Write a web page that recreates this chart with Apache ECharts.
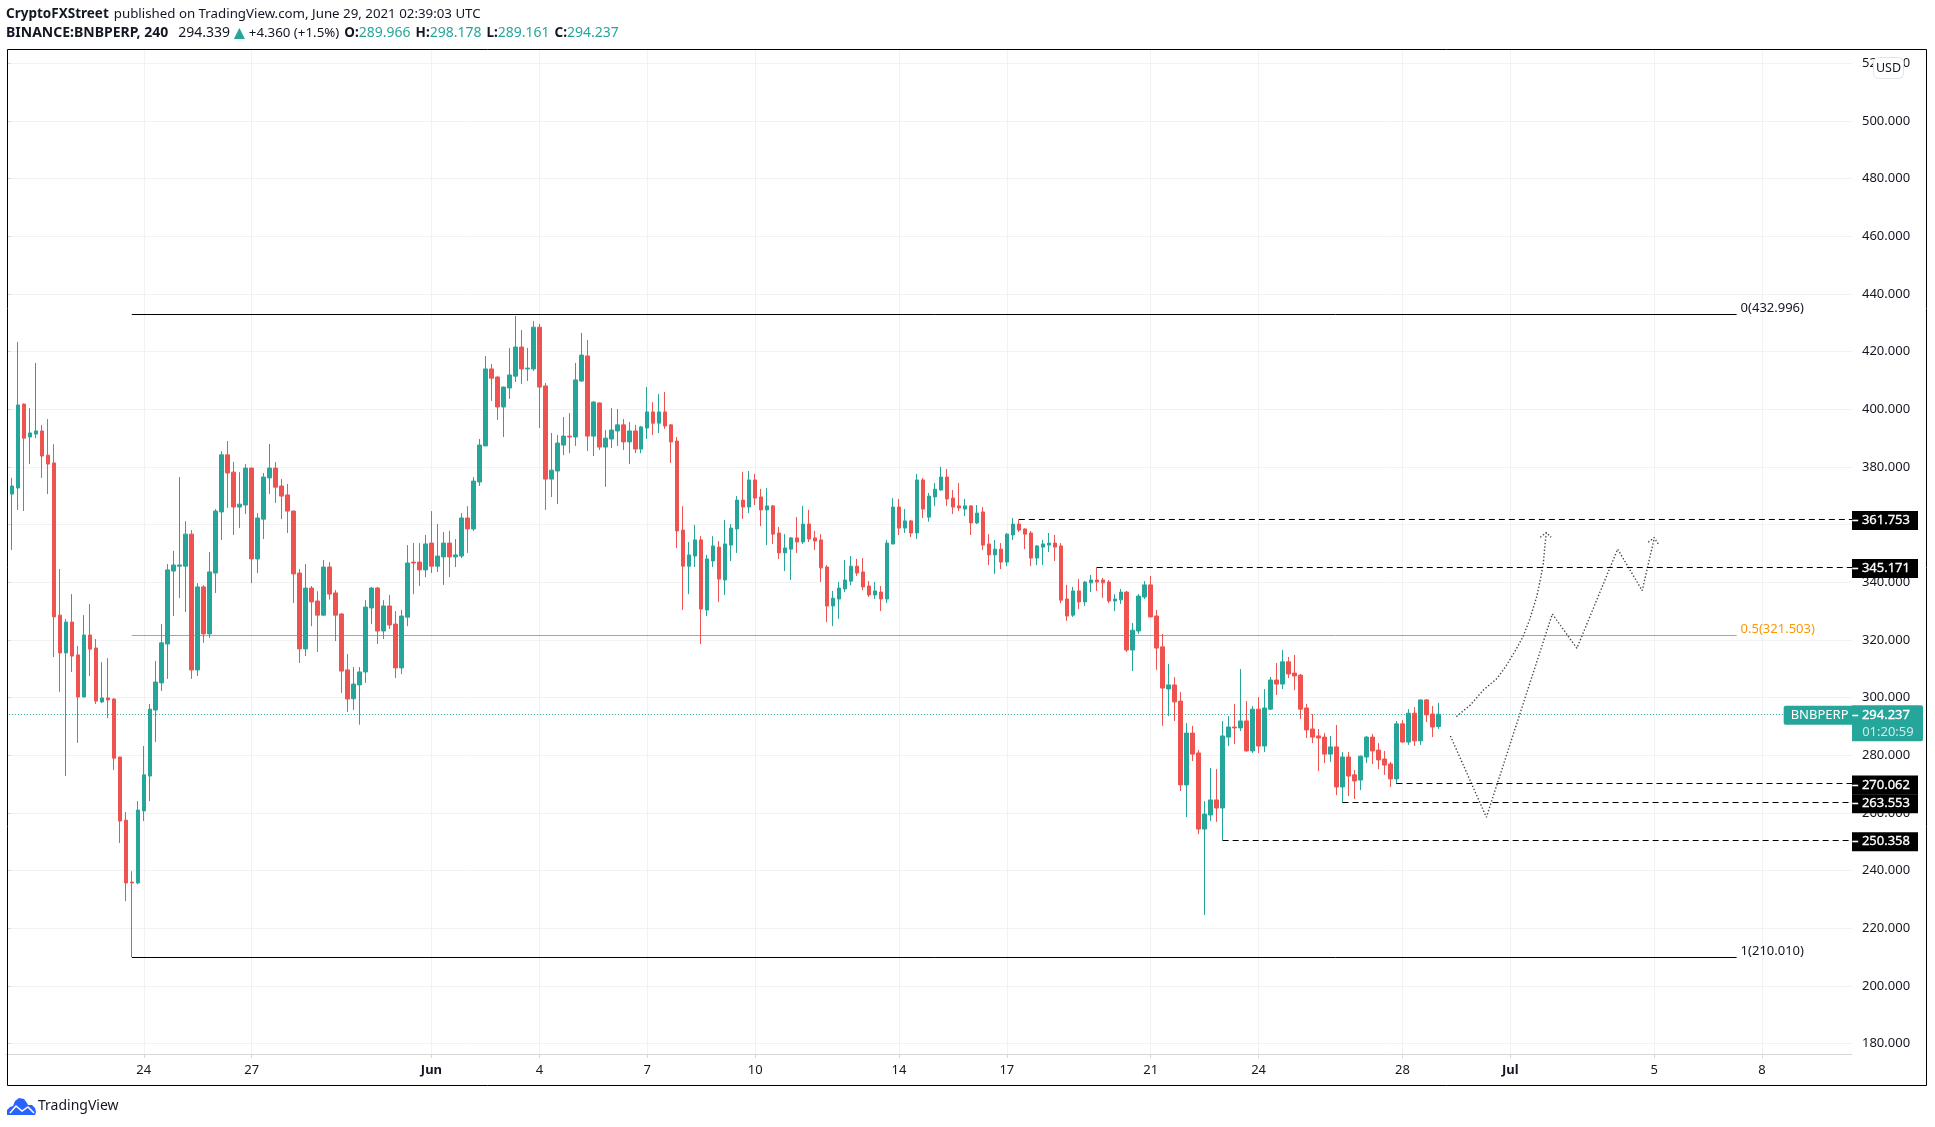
<!DOCTYPE html>
<html>
<head>
<meta charset="utf-8">
<title>BNBPERP</title>
<script src="https://cdn.jsdelivr.net/npm/echarts@6/dist/echarts.min.js"></script>
<style>
  html, body { margin: 0; padding: 0; background: #fff; }
  #main { width: 1935px; height: 1127px; }
</style>
</head>
<body>
<div id="main"></div>
<script>
// 4h bars, one slot per bar, empty slots on the right up to 8 Jul
var opens = [
  341.3,370.6,372.7,401.8,390.4,391.4,392.5,384.1,381.4,328.6,
  315.5,326.2,314.8,300.2,321.7,317.2,298.5,299.9,299.5,279.4,
  257.5,236.0,235.7,260.7,272.8,295.7,305.1,318.6,343.9,345.6,
  345.6,356.7,309.6,338.4,322.1,343.2,364.4,384.2,378.2,366.1,
  366.8,379.6,348.1,361.9,376.2,379.6,373.4,370.3,364.7,343.2,
  316.9,338.0,333.5,328.6,345.3,336.3,329.0,309.6,299.6,304.4,
  308.9,331.1,338.0,323.1,331.8,325.5,310.3,327.9,347.0,347.0,
  344.3,353.6,345.6,348.8,353.6,348.8,349.1,362.3,358.5,374.8,
  387.3,414.0,411.2,400.8,407.4,411.5,421.6,414.0,414.0,428.5,
  408.1,375.8,378.6,387.6,390.7,390.4,409.8,418.5,390.7,402.2,
  386.9,389.7,392.5,394.6,388.7,392.5,386.2,393.5,399.1,395.2,
  399.1,394.6,389.0,358.1,345.6,349.1,354.7,330.4,347.4,352.2,
  340.8,352.9,358.5,368.5,366.1,375.5,369.6,365.1,366.5,357.1,
  350.2,351.5,355.4,354.0,360.2,355.4,354.7,345.3,331.8,334.2,
  337.7,340.4,345.6,343.6,338.7,335.6,336.6,334.2,353.3,366.1,
  358.8,361.3,357.1,375.5,362.6,369.6,372.0,376.5,369.2,366.5,
  365.4,366.5,360.6,364.4,353.3,349.5,351.5,347.0,356.4,360.2,
  358.5,357.1,348.4,352.2,352.9,353.6,352.6,334.2,328.6,337.0,
  333.2,339.8,340.8,340.8,340.1,333.5,333.9,336.6,316.5,323.1,
  334.9,339.1,328.3,317.6,303.0,304.4,298.8,269.7,287.7,280.8,
  254.4,259.3,264.5,261.7,286.3,289.8,289.5,291.9,281.5,296.0,
  283.2,296.0,306.1,304.7,312.4,308.5,307.8,296.4,289.1,286.7,
  286.3,280.4,282.9,269.0,279.4,273.2,271.4,279.4,286.3,281.8,
  278.7,277.0,271.8,290.9,284.6,294.6,285.0,299.2,294.3,289.966
];
var closes = [
  371.1,373.4,401.5,390.0,391.8,392.5,383.8,381.0,328.0,315.5,
  326.2,314.4,300.2,321.7,316.8,298.8,299.9,299.2,279.0,257.2,
  235.7,235.7,261.0,273.2,296.0,305.4,319.0,344.3,346.0,346.0,
  356.7,309.6,338.4,322.1,343.6,364.7,384.2,377.9,366.1,367.1,
  379.6,348.1,362.3,376.5,379.6,373.0,369.9,364.7,342.9,316.9,
  338.0,333.2,328.6,345.3,335.9,328.6,309.2,299.5,304.7,308.9,
  331.4,338.0,323.1,331.8,325.2,310.3,328.3,346.7,346.7,344.3,
  353.3,345.6,349.1,353.6,348.8,349.5,362.3,358.5,375.1,387.6,
  414.0,410.8,400.8,407.7,411.9,421.6,414.0,414.3,428.5,407.7,
  375.8,378.9,388.3,390.7,390.4,410.2,418.8,390.7,402.5,386.9,
  390.0,392.8,394.6,388.7,392.5,386.2,393.9,399.1,395.2,399.1,
  394.2,388.7,357.8,345.6,349.5,354.7,330.7,348.1,352.6,341.1,
  353.3,358.8,368.5,366.1,375.5,369.2,365.1,366.5,356.7,350.2,
  351.9,355.4,354.0,360.2,355.0,354.3,345.0,331.8,334.5,338.0,
  340.8,345.6,343.2,338.4,335.6,337.0,334.2,353.6,366.1,358.8,
  361.3,357.1,375.5,365.4,369.9,372.3,376.5,368.9,366.1,365.8,
  366.5,360.6,364.0,352.9,349.5,351.5,347.0,356.7,360.2,358.1,
  356.7,348.4,352.6,353.3,353.6,352.2,333.8,328.3,337.0,333.2,
  340.1,340.8,340.1,339.8,333.5,334.2,336.6,316.5,323.4,335.2,
  339.1,328.0,317.2,303.3,304.4,298.5,269.7,287.7,280.4,254.4,
  259.6,264.5,261.7,286.7,289.8,289.5,291.9,281.5,296.0,283.2,
  296.4,306.1,304.7,312.4,308.2,307.5,296.0,288.8,286.3,286.0,
  280.4,282.9,269.0,279.4,272.8,271.1,279.7,286.3,281.5,278.4,
  276.6,271.8,290.9,284.6,294.6,285.0,299.2,294.0,289.8,294.237
];
var lows = [
  341.0,351.2,365.1,364.7,381.0,390.0,376.2,370.6,314.1,302.0,
  272.8,308.9,284.3,300.2,307.5,297.8,298.1,292.9,274.9,249.6,
  229.4,210.01,235.3,257.2,264.1,284.6,302.3,306.5,328.3,334.5,
  329.7,306.5,307.5,319.0,320.7,336.3,354.7,365.8,356.4,358.8,
  363.7,339.7,343.2,355.0,370.6,367.5,361.9,357.1,332.8,312.0,
  314.4,324.8,315.8,328.5,334.0,319.6,301.6,295.0,295.7,290.6,
  305.1,325.5,318.6,320.3,323.8,306.8,308.2,324.8,335.9,338.7,
  341.8,343.2,343.6,339.1,341.8,345.3,348.4,350.2,357.8,373.4,
  387.3,402.9,396.3,390.4,403.6,409.5,408.8,409.8,413.3,393.5,
  365.1,369.6,367.1,384.1,384.8,387.3,409.6,385.5,383.8,385.9,
  373.1,386.6,387.3,385.9,381.0,384.8,384.8,389.7,391.1,391.8,
  393.2,381.4,351.9,330.4,335.9,345.3,318.6,328.3,345.3,333.2,
  335.6,347.4,350.2,362.0,364.0,366.8,359.5,352.9,353.3,348.1,
  343.9,340.8,350.2,353.3,354.0,351.2,340.1,326.2,324.8,327.3,
  336.6,339.0,342.2,337.3,334.9,334.2,330.0,332.8,353.1,356.4,
  357.1,355.7,355.0,362.3,361.0,366.5,371.8,366.5,363.7,364.7,
  363.0,356.4,360.2,351.2,346.0,342.9,344.6,345.6,354.7,357.4,
  351.5,345.6,346.0,346.0,350.5,347.4,332.8,326.6,328.0,330.7,
  331.8,336.6,337.0,334.6,332.8,330.0,332.5,315.8,309.2,322.1,
  334.2,327.8,309.6,290.2,293.6,291.9,267.6,258.6,278.0,252.7,
  224.6,257.2,256.9,250.358,283.2,283.9,288.4,281.3,280.8,280.8,
  281.1,295.7,300.9,303.0,306.8,302.6,292.6,286.0,284.2,274.5,
  277.3,277.7,266.2,263.553,265.9,264.8,267.9,277.3,277.0,275.2,
  273.2,269.0,270.062,284.3,283.6,283.2,283.6,291.5,286.3,289.161
];
var highs = [
  375.0,376.2,423.3,402.0,400.4,416.1,394.6,396.6,387.9,344.6,
  327.3,335.9,317.9,328.6,332.5,320.3,312.3,313.7,299.8,279.4,
  260.3,239.8,264.1,283.2,297.8,312.7,325.5,346.3,350.9,376.5,
  361.2,358.1,339.7,339.0,350.5,365.4,385.5,389.0,381.7,378.2,
  381.0,379.8,364.0,377.9,388.0,381.7,375.8,374.1,364.9,344.6,
  346.3,338.7,336.9,347.7,347.0,337.3,329.3,315.1,310.6,310.6,
  333.8,338.4,338.4,333.8,335.6,330.0,330.4,352.9,353.6,353.6,
  356.4,364.7,360.2,357.4,357.8,355.0,364.0,366.4,376.5,389.7,
  418.5,415.7,411.4,407.9,421.3,432.4,427.5,421.3,430.6,429.6,
  409.1,391.8,391.1,397.3,398.7,416.1,426.5,424.0,402.9,402.4,
  392.8,400.4,400.1,396.6,395.6,394.6,394.2,407.7,402.5,405.3,
  406.0,394.8,390.4,366.4,354.0,359.9,356.0,349.5,356.0,354.3,
  361.6,360.2,369.9,378.3,378.6,377.6,372.4,372.7,366.8,359.2,
  356.7,355.7,362.6,366.5,365.1,357.8,356.7,346.0,337.0,340.1,
  347.7,349.1,348.1,348.4,340.4,340.1,338.7,354.7,369.2,368.9,
  365.4,361.6,377.6,376.2,371.0,374.4,380.0,379.3,372.0,374.4,
  368.9,366.7,366.8,366.1,356.7,354.7,353.6,357.1,362.3,361.753,
  358.7,357.8,352.9,354.7,357.1,356.4,353.6,339.1,338.4,341.1,
  340.4,342.5,345.171,341.5,340.8,335.9,337.7,337.0,325.9,335.9,
  340.4,342.2,330.4,322.1,311.7,307.1,301.9,291.2,290.2,281.8,
  264.1,275.6,275.2,291.9,293.6,297.8,309.9,298.8,297.1,300.2,
  303.0,307.1,312.0,316.5,314.1,314.8,308.2,297.8,294.3,289.1,
  287.7,286.7,290.5,281.1,281.1,274.9,279.9,286.7,287.4,284.2,
  281.5,277.7,291.9,292.2,296.0,296.7,299.3,299.5,297.1,298.178
];

var slotCount = 309;
var tickSlots = [23, 41, 71, 89, 107, 125, 149, 167, 191, 209, 233, 251, 275, 293];
var tickLabels = ['24', '27', 'Jun', '4', '7', '10', '14', '17', '21', '24', '28', 'Jul', '5', '8'];
var priceTicks = [180, 200, 220, 240, 260, 280, 300, 320, 340, 360, 380, 400, 420, 440, 460, 480, 500, 520];

// fib retracement
var fibLevels = [432.996, 321.503, 210.010];
var fibNames = ['0(432.996)', '0.5(321.503)', '1(210.010)'];
var fibColors = ['#000000', '#ff9800', '#000000'];
var fibLabelColors = ['#131722', '#ff9800', '#131722'];
var fibSpan = [21, 288.75];

// dashed horizontal levels, each starts at the bar it was taken from
var levelValues = [361.753, 345.171, 270.062, 263.553, 250.358];
var levelStarts = [169, 182, 232, 223, 203];

var lastPrice = 294.237;
var lastEnd = 296.6;

// hand drawn projections, x in bar slots
var curveX = [242.0, 244.3, 246.5, 248.8, 250.2, 251.9, 253.1, 254.2, 255.4, 256.1, 256.5, 256.8, 257.0];
var curveY = [293.4, 297.4, 302.6, 306.7, 310.7, 316.5, 321.1, 326.9, 335.0, 342.0, 346.6, 353.5, 357.0];
var curveHeadX = [256.0, 257.0, 257.8];
var curveHeadY = [355.6, 357.3, 355.6];
var zigX = [241.0, 247.0, 258.0, 262.1, 268.9, 273.0, 275.0];
var zigY = [286.7, 258.5, 329.0, 317.1, 351.5, 337.1, 355.3];
var zigHeadX = [274.0, 275.0, 275.8];
var zigHeadY = [353.9, 355.5, 352.9];

var UP = '#26a69a', DOWN = '#ef5350', GRID = '#f1f2f4', AXIS = '#d6d7da', TEXT = '#131722';
var FONT = '"Noto Sans", sans-serif';

var categories = [];
for (var i = 0; i < slotCount; i++) {
  var k = tickSlots.indexOf(i);
  categories.push(k >= 0 ? tickLabels[k] : '');
}
var candles = opens.map(function (o, i) {
  return [o, closes[i], lows[i], highs[i]];
});
function isTick(index) {
  return tickSlots.indexOf(index) >= 0;
}
function zip(xs, ys) {
  return xs.map(function (x, i) { return [x, ys[i]]; });
}
function dotted(xs, ys) {
  return {
    type: 'line', xAxisIndex: 1, data: zip(xs, ys), showSymbol: false, silent: true, z: 5,
    lineStyle: { color: '#4a4a4a', width: 1.4, type: [1.4, 2] }
  };
}
// horizontal line snapped to a whole pixel, so it stays 1px sharp like the original
function hline(x0, x1, y, color, dash, z) {
  return {
    type: 'custom', xAxisIndex: 1, data: [[x0, x1, y]], encode: { x: [0, 1], y: 2 }, silent: true, z: z, clip: false,
    renderItem: function (params, api) {
      var a = api.coord([api.value(0), api.value(2)]);
      var b = api.coord([api.value(1), api.value(2)]);
      var yy = Math.round(a[1] - 0.5) + 0.5;
      return {
        type: 'line',
        shape: { x1: a[0], y1: yy, x2: b[0], y2: yy },
        style: { stroke: color, lineWidth: 1, lineDash: dash, fill: null }
      };
    }
  };
}
// invisible line that only carries the end label
function labelLine(x0, x1, y, z, endLabel) {
  return {
    type: 'line', xAxisIndex: 1, data: [[x0, y], [x1, y]], showSymbol: false, silent: true, z: z,
    lineStyle: { opacity: 0 }, endLabel: endLabel
  };
}

var series = [{
  type: 'candlestick',
  data: candles,
  barWidth: 4,
  z: 3,
  itemStyle: { color: UP, color0: DOWN, borderColor: UP, borderColor0: DOWN, borderWidth: 1 }
}];

fibLevels.forEach(function (lvl, i) {
  series.push(hline(fibSpan[0], fibSpan[1], lvl, fibColors[i], null, 2));
  series.push(labelLine(fibSpan[0], fibSpan[1], lvl, 2, {
    show: true, formatter: fibNames[i], color: fibLabelColors[i], fontFamily: FONT, fontSize: 13, distance: 4, offset: [0, -6]
  }));
});

levelValues.forEach(function (lvl, i) {
  series.push(hline(levelStarts[i], 308, lvl, '#000', [6, 4], 6));
  series.push(labelLine(levelStarts[i], 308, lvl, 6 + i, {
    show: true, formatter: '– ' + lvl.toFixed(3), color: '#fff', backgroundColor: '#000', fontFamily: FONT, fontSize: 13,
    textBorderColor: '#fff', textBorderWidth: 0.3,
    lineHeight: 13, padding: [3, 0, 3, 0], width: 66, align: 'left', distance: 0, offset: [0, 1]
  }));
});

// last price dotted line with the two tags at the scale
series.push(hline(0, lastEnd, lastPrice, UP, [1, 2], 2));
series.push(labelLine(0, lastEnd, lastPrice, 2, {
  show: true, formatter: 'BNBPERP', color: '#fff', backgroundColor: UP, fontFamily: FONT, fontSize: 13, lineHeight: 13,
  padding: [3, 0, 3, 7], width: 62, align: 'left', distance: 0, borderRadius: [2, 0, 0, 2], offset: [0, 1]
}));
series.push(labelLine(lastEnd, 308, lastPrice, 12, {
  show: true, formatter: '{p|– 294.237}\n{t|   01:20:59}', backgroundColor: UP, distance: 0, offset: [0, 9], width: 71, align: 'left',
  padding: [2, 0, 1, 0], borderRadius: [0, 2, 2, 0],
  rich: {
    p: { color: '#fff', fontFamily: FONT, fontSize: 13, lineHeight: 17, textBorderColor: '#fff', textBorderWidth: 0.3 },
    t: { color: '#cdebe7', fontFamily: FONT, fontSize: 13, lineHeight: 16 }
  }
}));

series.push(dotted(curveX, curveY));
series.push(dotted(curveHeadX, curveHeadY));
series.push(dotted(zigX, zigY));
series.push(dotted(zigHeadX, zigHeadY));

var header = '{b|CryptoFXStreet} {n|published on TradingView.com, June 29, 2021 02:39:03 UTC}';
var header2 = '{b2|BINANCE:BNBPERP, 240}  {d|294.339}{t|▲}{n|+4.360 (+1.5%)} {b|O:}{g|289.966} {b|H:}{g|298.178} {b|L:}{g|289.161} {b|C:}{g|294.237}';

var option = {
  animation: false,
  backgroundColor: '#fff',
  title: {
    left: 6, top: 5, padding: 0,
    text: header + '\n' + header2,
    textStyle: {
      fontWeight: 'normal',
      rich: {
        b: { fontFamily: FONT, fontSize: 13.5, fontWeight: 'bold', color: TEXT, lineHeight: 19 },
        b2: { fontFamily: FONT, fontSize: 14, fontWeight: 'bold', color: TEXT, lineHeight: 19 },
        n: { fontFamily: FONT, fontSize: 13.3, fontWeight: 'normal', color: TEXT, lineHeight: 19 },
        d: { fontFamily: FONT, fontSize: 14, fontWeight: 'normal', color: TEXT, lineHeight: 19 },
        g: { fontFamily: FONT, fontSize: 14, fontWeight: 'normal', color: UP, lineHeight: 19 },
        t: { fontFamily: FONT, fontSize: 19, fontWeight: 'normal', color: UP, lineHeight: 19 }
      }
    }
  },
  grid: { left: 5.9, right: 83, top: 50, bottom: 73 },
  xAxis: [{
    type: 'category',
    data: categories,
    boundaryGap: false,
    axisLine: { lineStyle: { color: AXIS } },
    axisTick: { interval: function (i) { return isTick(i); }, length: 4, lineStyle: { color: AXIS } },
    splitLine: { show: true, interval: function (i) { return isTick(i); }, lineStyle: { color: GRID } },
    axisLabel: {
      interval: function (i) { return isTick(i); }, margin: 10, color: TEXT, fontFamily: FONT, fontSize: 13,
      formatter: function (v) { return v == 'Jun' || v == 'Jul' ? '{m|' + v + '}' : v; },
      rich: { m: { fontFamily: FONT, fontSize: 13, fontWeight: 'bold', color: TEXT } }
    }
  }, {
    type: 'value', min: 0, max: 308, show: false
  }],
  yAxis: {
    type: 'value',
    position: 'right',
    min: 176.38,
    max: 524.63,
    axisLine: { show: true, lineStyle: { color: AXIS } },
    axisTick: { show: true, length: 5, customValues: priceTicks, lineStyle: { color: AXIS } },
    splitLine: { show: true, lineStyle: { color: GRID } },
    axisLabel: {
      customValues: priceTicks, margin: 10, color: TEXT, fontFamily: FONT, fontSize: 13,
      formatter: function (v) { return v.toFixed(3); }
    }
  },
  series: series,
  graphic: [
    { type: 'rect', shape: { x: 0, y: 50, width: 7, height: 1004 }, style: { fill: '#fff' }, z: 50 },
    { type: 'rect', shape: { x: 7.5, y: 49.5, width: 1919, height: 1036 }, style: { fill: 'none', stroke: '#000', lineWidth: 1 }, z: 51 },
    { type: 'rect', shape: { x: 1873.5, y: 57.5, width: 30, height: 21, r: 5 }, style: { fill: '#fff', stroke: '#e0e3eb', lineWidth: 1 }, z: 52 },
    { type: 'text', x: 1888.5, y: 68, style: { text: 'USD', fill: TEXT, font: '12.5px ' + FONT, textAlign: 'center', textVerticalAlign: 'middle' }, z: 53 },
    { type: 'polygon', x: 7, y: 1098, z: 52, shape: { points: [[0, 17], [0, 12], [3, 9], [6, 8], [8, 3], [12, 0], [17, 1], [20, 5], [21, 7], [25, 7], [28, 10], [29, 14], [28, 17]] }, style: { fill: '#2962ff' } },
    { type: 'polyline', x: 7, y: 1098, z: 53, shape: { points: [[3, 15], [9, 8], [15, 13], [21, 9], [27, 15]] }, style: { fill: 'none', stroke: '#fff', lineWidth: 1.5 } },
    { type: 'text', x: 38, y: 1106, style: { text: 'TradingView', fill: TEXT, font: '14px ' + FONT, textVerticalAlign: 'middle' }, z: 53 }
  ]
};

var chart = echarts.init(document.getElementById('main'));
chart.setOption(option);
</script>
</body>
</html>
